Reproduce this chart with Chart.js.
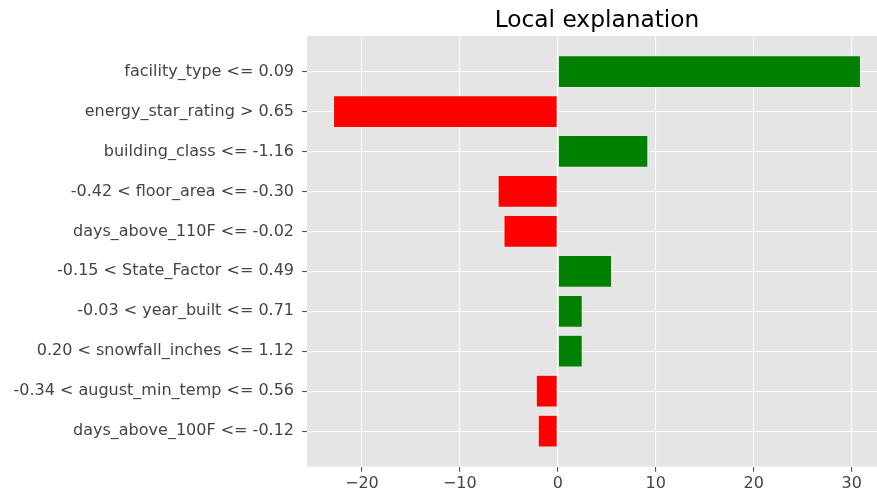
<!DOCTYPE html>
<html>
<head>
<meta charset="utf-8">
<script src="https://cdn.jsdelivr.net/npm/chart.js@4/dist/chart.umd.min.js"></script>
<style>
  html, body { margin: 0; padding: 0; background: #ffffff; overflow: hidden; width: 877px; height: 499px; }
  #wrap { width: 887px; height: 499px; }
</style>
</head>
<body>
<div id="wrap"><canvas id="chart" width="887" height="499"></canvas></div>
<script>
// Feature conditions and their weights in the local explanation (top to bottom)
const features = [
  'facility_type <= 0.09',
  'energy_star_rating > 0.65',
  'building_class <= -1.16',
  '-0.42 < floor_area <= -0.30',
  'days_above_110F <= -0.02',
  '-0.15 < State_Factor <= 0.49',
  '-0.03 < year_built <= 0.71',
  '0.20 < snowfall_inches <= 1.12',
  '-0.34 < august_min_temp <= 0.56',
  'days_above_100F <= -0.12'
];
const weights = [30.9, -22.9, 9.2, -6.1, -5.5, 5.5, 2.5, 2.5, -2.2, -2.0];
const xTicks = [-20, -10, 0, 10, 20, 30];
const titleText = 'Local explanation';

const FONT = "'DejaVu Sans', sans-serif";

// Grey panel behind the plotting area
const panelBackground = {
  id: 'panelBackground',
  beforeDraw(chart) {
    const { ctx, chartArea: a } = chart;
    ctx.save();
    ctx.fillStyle = '#e5e5e5';
    ctx.fillRect(a.left, a.top, a.right - a.left, a.bottom - a.top);
    ctx.restore();
  }
};

// Title centred over the plotting area
const panelTitle = {
  id: 'panelTitle',
  afterDraw(chart) {
    const { ctx, chartArea: a } = chart;
    ctx.save();
    ctx.font = '23.3px ' + FONT;
    ctx.fillStyle = '#000000';
    ctx.textAlign = 'center';
    ctx.textBaseline = 'alphabetic';
    ctx.fillText(titleText, (a.left + a.right) / 2, 27);
    ctx.restore();
  }
};

new Chart(document.getElementById('chart'), {
  type: 'bar',
  data: {
    datasets: [{
      data: weights.map((w, i) => ({ x: w, y: i })),
      backgroundColor: weights.map(w => w >= 0 ? '#008000' : '#ff0000'),
      borderColor: '#eeeeee',
      borderWidth: 0.6,
      borderSkipped: false,
      barPercentage: 1.0,
      categoryPercentage: 0.8
    }]
  },
  options: {
    indexAxis: 'y',
    responsive: false,
    animation: false,
    layout: { padding: { top: 36, right: 0, left: 0, bottom: 0 } },
    plugins: {
      legend: { display: false },
      tooltip: { enabled: false },
      title: { display: false }
    },
    scales: {
      x: {
        type: 'linear',
        min: -25.6,
        max: 33.6,
        offset: false,
        afterBuildTicks(scale) { scale.ticks = xTicks.map(v => ({ value: v })); },
        afterFit(scale) { scale.height = 32.3; },
        grid: { offset: false, color: '#ffffff', lineWidth: 1.1, tickColor: '#555555', tickLength: 5 },
        border: { display: false },
        ticks: {
          color: '#444444',
          font: { family: FONT, size: 16 },
          padding: 3,
          maxRotation: 0,
          callback: v => String(v).replace('-', '\u2212')
        }
      },
      y: {
        type: 'linear',
        reverse: true,
        min: -0.89,
        max: 9.89,
        offset: false,
        afterBuildTicks(scale) { scale.ticks = features.map((_, i) => ({ value: i })); },
        afterFit(scale) { scale.width = 307; },
        grid: { offset: false, color: '#ffffff', lineWidth: 1.1, tickColor: '#555555', tickLength: 5 },
        border: { display: false },
        ticks: {
          color: '#444444',
          font: { family: FONT, size: 16 },
          padding: 8,
          autoSkip: false,
          callback: v => features[v] ?? ''
        }
      }
    }
  },
  plugins: [panelBackground, panelTitle]
});
</script>
</body>
</html>
